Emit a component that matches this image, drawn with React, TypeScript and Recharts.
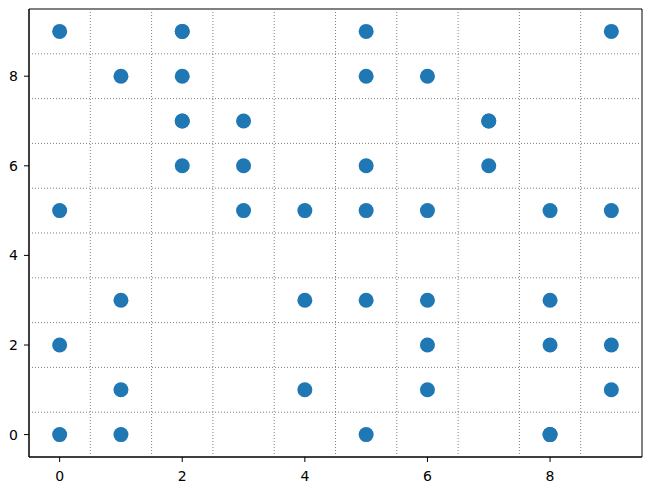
import { ScatterChart, Scatter, XAxis, YAxis, ReferenceLine, ReferenceArea } from 'recharts';

// point coordinates (a few cells hold two points)
const xs = [0, 2, 2, 5, 9, 1, 2, 5, 6, 2, 2, 3, 7, 7, 2, 3, 5, 7, 0, 3, 4, 5, 6, 8, 9, 1, 4, 5, 6, 8, 0, 6, 8, 9, 1, 4, 6, 9, 0, 1, 5, 8, 8];
const ys = [9, 9, 9, 9, 9, 8, 8, 8, 8, 7, 7, 7, 7, 7, 6, 6, 6, 6, 5, 5, 5, 5, 5, 5, 5, 3, 3, 3, 3, 3, 2, 2, 2, 2, 1, 1, 1, 1, 0, 0, 0, 0, 0];

const tickValues = [0, 2, 4, 6, 8];
const gridLines = [0.5, 1.5, 2.5, 3.5, 4.5, 5.5, 6.5, 7.5, 8.5];

const points = xs.map((x, i) => ({ x, y: ys[i] }));

const tickStyle = { fill: '#000', fontSize: 14, fontFamily: 'DejaVu Sans' };

export default function App() {
  return (
    <div style={{ position: 'absolute', left: 0, top: 0, background: '#fff' }}>
      <ScatterChart width={651} height={491} margin={{ top: 9, right: 9, bottom: 0, left: 9 }}>
        <XAxis
          type='number'
          dataKey='x'
          domain={[-0.5, 9.5]}
          ticks={tickValues}
          allowDataOverflow
          height={34}
          stroke='#000'
          tickSize={5}
          tickMargin={9}
          tick={tickStyle}
        />
        <YAxis
          type='number'
          dataKey='y'
          domain={[-0.5, 9.5]}
          ticks={tickValues}
          allowDataOverflow
          width={20}
          stroke='#000'
          tickSize={5}
          tickMargin={6}
          tick={tickStyle}
        />
        {gridLines.map((v) => (
          <ReferenceLine key={'gx' + v} x={v} stroke='#808080' strokeDasharray='1 2' />
        ))}
        {gridLines.map((v) => (
          <ReferenceLine key={'gy' + v} y={v} stroke='#808080' strokeDasharray='1 2' />
        ))}
        <ReferenceArea x1={-0.5} x2={9.5} y1={-0.5} y2={9.5} fill='none' stroke='#000' strokeWidth={1} fillOpacity={0} />
        <Scatter
          data={points}
          isAnimationActive={false}
          shape={(props: any) => <circle cx={props.cx} cy={props.cy} r={7.5} fill='#1f77b4' />}
        />
      </ScatterChart>
    </div>
  );
}
